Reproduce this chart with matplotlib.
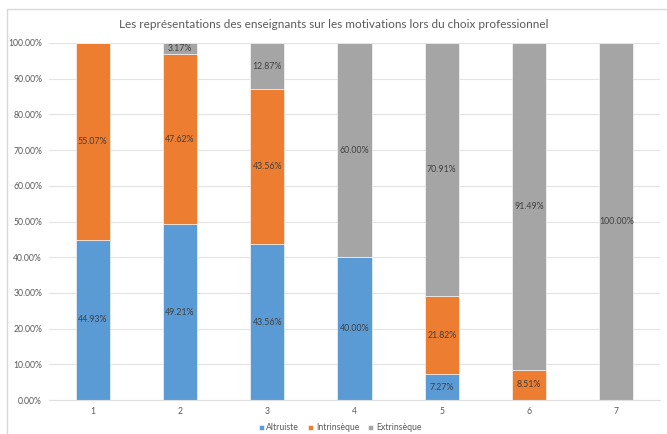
import matplotlib
matplotlib.use("Agg")
import matplotlib.pyplot as plt
from matplotlib.patches import Rectangle
import numpy as np

categories = ["1", "2", "3", "4", "5", "6", "7"]
altruiste = [44.93, 49.21, 43.56, 40.00, 7.27, 0.0, 0.0]
intrinseque = [55.07, 47.62, 43.56, 0.0, 21.82, 8.51, 0.0]
extrinseque = [0.0, 3.17, 12.87, 60.00, 70.91, 91.49, 100.00]
series_names = ["Altruiste", "Intrinsèque", "Extrinsèque"]
y_ticks = [0, 10, 20, 30, 40, 50, 60, 70, 80, 90, 100]

colors = ["#5B9BD5", "#ED7D31", "#A5A5A5"]
plt.rcParams["font.family"] = ["Lato", "DejaVu Sans"]

fig = plt.figure(figsize=(6.67, 4.34), dpi=100)
ax = fig.add_axes([49 / 667, 34 / 434, 611 / 667, 357 / 434])

x = np.arange(len(categories))
bottom = np.zeros(len(categories))
handles = []
for vals, name, col in zip([altruiste, intrinseque, extrinseque], series_names, colors):
    vals = np.array(vals)
    bars = ax.bar(x, vals, 0.39, bottom=bottom, color=col, label=name,
                  edgecolor="white", linewidth=0.4, zorder=2)
    handles.append(bars)
    for xi, v, b in zip(x, vals, bottom):
        if v > 0:
            ax.text(xi, b + v / 2, f"{v:.2f}%", ha="center", va="center",
                    fontsize=6.3, color="#404040", zorder=3)
    bottom = bottom + vals

ax.set_xlim(-0.5, len(categories) - 0.5)
ax.set_ylim(0, 100)
ax.set_yticks(y_ticks)
ax.set_yticklabels([f"{t:.2f}%" for t in y_ticks])
ax.set_xticks(x)
ax.set_xticklabels(categories)
ax.tick_params(axis="both", length=0, labelsize=6.2, colors="#595959")
ax.tick_params(axis="y", pad=5)
ax.tick_params(axis="x", pad=5)
ax.grid(axis="y", color="#E3E3E3", linewidth=0.8, zorder=0)
ax.set_axisbelow(True)
for side in ["top", "right", "left"]:
    ax.spines[side].set_visible(False)
ax.spines["bottom"].set_color("#E0E0E0")
ax.spines["bottom"].set_linewidth(0.8)

fig.text(0.5, 1 - 24 / 434, "Les représentations des enseignants sur les motivations lors du choix professionnel",
         ha="center", va="center", fontsize=8.5, color="#595959")

fig.legend(handles=handles, labels=series_names, loc="center", bbox_to_anchor=(340 / 667, 1 - 428 / 434),
           ncol=3, frameon=False, fontsize=6.3, handlelength=0.6, handleheight=0.6,
           handletextpad=0.3, columnspacing=1.0, labelcolor="#595959")

# chart frame
fig.patches.append(Rectangle((7 / 667, -0.1), 1.2, 1.1 - 9 / 434, transform=fig.transFigure,
                             fill=False, edgecolor="#D9D9D9", linewidth=1.0))

fig.savefig("out.png", dpi=100)
